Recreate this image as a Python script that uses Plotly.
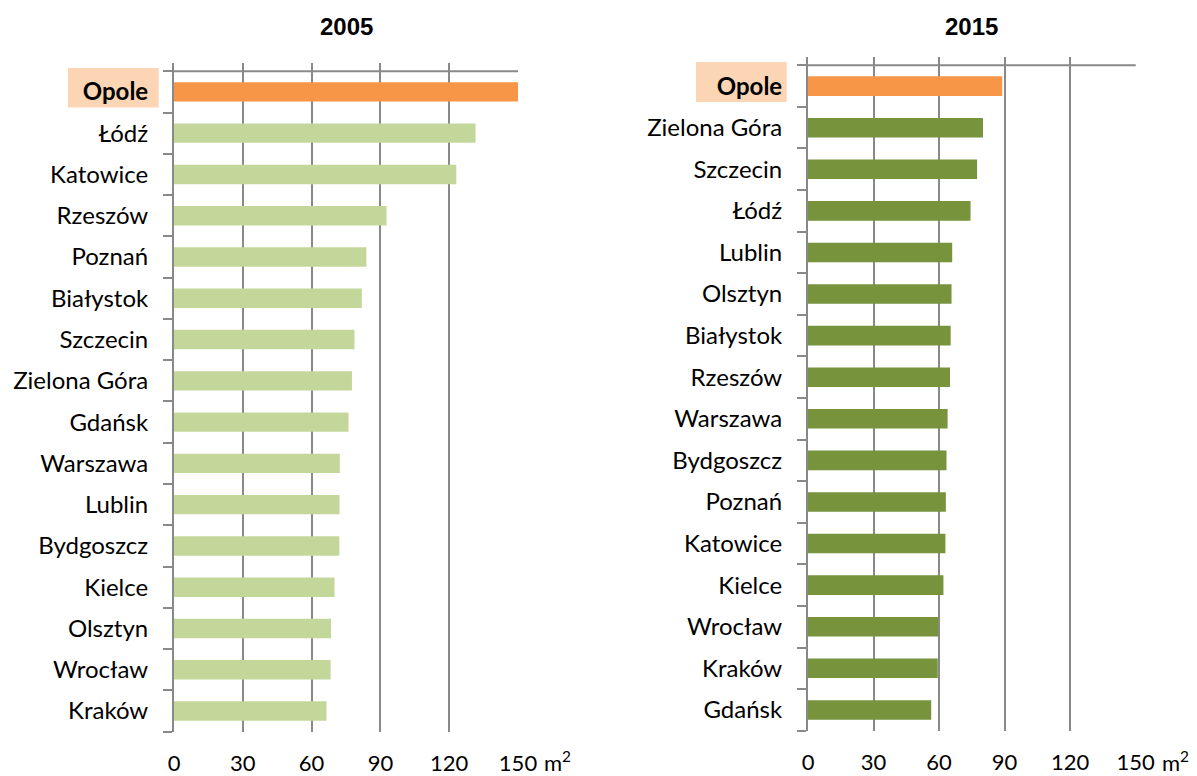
import plotly.graph_objects as go

# ---- data ----
cities_2005 = ["Opole", "Łódź", "Katowice", "Rzeszów", "Poznań", "Białystok", "Szczecin",
               "Zielona Góra", "Gdańsk", "Warszawa", "Lublin", "Bydgoszcz", "Kielce",
               "Olsztyn", "Wrocław", "Kraków"]
values_2005 = [150.0, 131.5, 123.1, 92.7, 83.9, 81.9, 78.7, 77.6, 76.1, 72.3, 72.2, 72.1,
               70.0, 68.5, 68.3, 66.5]

cities_2015 = ["Opole", "Zielona Góra", "Szczecin", "Łódź", "Lublin", "Olsztyn", "Białystok",
               "Rzeszów", "Warszawa", "Bydgoszcz", "Poznań", "Katowice", "Kielce",
               "Wrocław", "Kraków", "Gdańsk"]
values_2015 = [88.9, 80.1, 77.4, 74.4, 66.0, 65.7, 65.3, 65.0, 63.9, 63.4, 63.1, 62.9,
               62.0, 59.6, 59.4, 56.4]

panel_titles = ["2005", "2015"]
x_ticks = [0, 30, 60, 90, 120, 150]
x_ticktext = ["0", "30", "60", "90", "120", "150"]
highlight = "Opole"
unit_text = "m<sup>2</sup>"

# ---- styles ----
ORANGE = "#F79646"
LIGHT_GREEN = "#C4D79B"
DARK_GREEN = "#77933C"
PEACH = "#FCD5B4"
GRID = "#898989"
FONT = "Lato"
W, H = 1197, 776


def px(xv):
    return xv / W


def py(yv):
    return 1 - yv / H


fig = go.Figure()

panels = [
    dict(cats=cities_2005, vals=values_2005, color=LIGHT_GREEN, x="x", y="y",
         xdom=[px(174), px(518)], ydom=[py(731.7), py(63)],
         box=[px(68), px(158.7)]),
    dict(cats=cities_2015, vals=values_2015, color=DARK_GREEN, x="x2", y="y2",
         xdom=[px(808), px(1135.7)], ydom=[py(730.7), py(57)],
         box=[px(696), px(786.7)]),
]

n = len(cities_2005)
for i, p in enumerate(panels):
    colors = [ORANGE if c == highlight else p["color"] for c in p["cats"]]
    fig.add_trace(go.Bar(
        x=p["vals"], y=p["cats"], orientation="h",
        marker=dict(color=colors, line=dict(width=0)),
        xaxis=p["x"], yaxis=p["y"], showlegend=False,
    ))

    xname = "xaxis" if i == 0 else "xaxis2"
    yname = "yaxis" if i == 0 else "yaxis2"
    ticktext_y = [f"<b>{c}</b>" if c == highlight else c for c in p["cats"]]

    fig.layout[xname] = dict(
        domain=p["xdom"], anchor=p["y"], range=[0, 150], side="bottom",
        tickvals=x_ticks, ticktext=x_ticktext, showgrid=True, gridcolor=GRID,
        gridwidth=2, zeroline=False, showline=False, ticks="",
        tickfont=dict(family=FONT, size=22, color="#000000"),
        ticklabelstandoff=16, fixedrange=True, automargin=False,
    )
    fig.layout[yname] = dict(
        domain=p["ydom"], anchor=p["x"], type="category",
        categoryorder="array", categoryarray=p["cats"],
        range=[n - 0.5, -0.7],
        tickvals=p["cats"], ticktext=ticktext_y,
        showline=True, linecolor=GRID, linewidth=2,
        ticks="outside", tickson="boundaries", ticklen=9, tickcolor=GRID, tickwidth=2,
        showgrid=False, zeroline=False,
        tickfont=dict(family=FONT, size=24, color="#000000"),
        ticklabelstandoff=19, fixedrange=True, automargin=False,
    )

    # top value-axis line (at the upper category boundary)
    fig.add_shape(type="line", xref=f"{p['x']} domain", x0=0, x1=1,
                  yref=p["y"], y0=-0.5, y1=-0.5,
                  line=dict(color=GRID, width=2), layer="above")

    # highlight box behind the "Opole" label
    fig.add_shape(type="rect", xref="paper", yref=p["y"],
                  x0=p["box"][0], x1=p["box"][1], y0=-0.58, y1=0.38,
                  fillcolor=PEACH, line=dict(width=0), layer="below")

    # panel title
    fig.add_annotation(text=f"<b>{panel_titles[i]}</b>", xref=f"{p['x']} domain", x=0.5,
                       yref="paper", y=py(27), yanchor="middle", showarrow=False,
                       font=dict(family="Liberation Sans", size=24, color="#000000"))
    # unit
    fig.add_annotation(text=unit_text, xref=p["x"], x=150, xanchor="left", xshift=24,
                       yref="paper", y=py(761), yanchor="middle", showarrow=False,
                       font=dict(family=FONT, size=22, color="#000000"))

fig.update_layout(
    width=W, height=H, margin=dict(l=0, r=0, t=0, b=0, autoexpand=False),
    paper_bgcolor="white", plot_bgcolor="white",
    bargap=0.53,
)

# remove the page's default body margin so the figure fills the window exactly
fig.write_html(
    "out.html",
    config={"displayModeBar": False},
    post_script="document.body.style.margin='0';document.body.style.overflow='hidden';",
)
